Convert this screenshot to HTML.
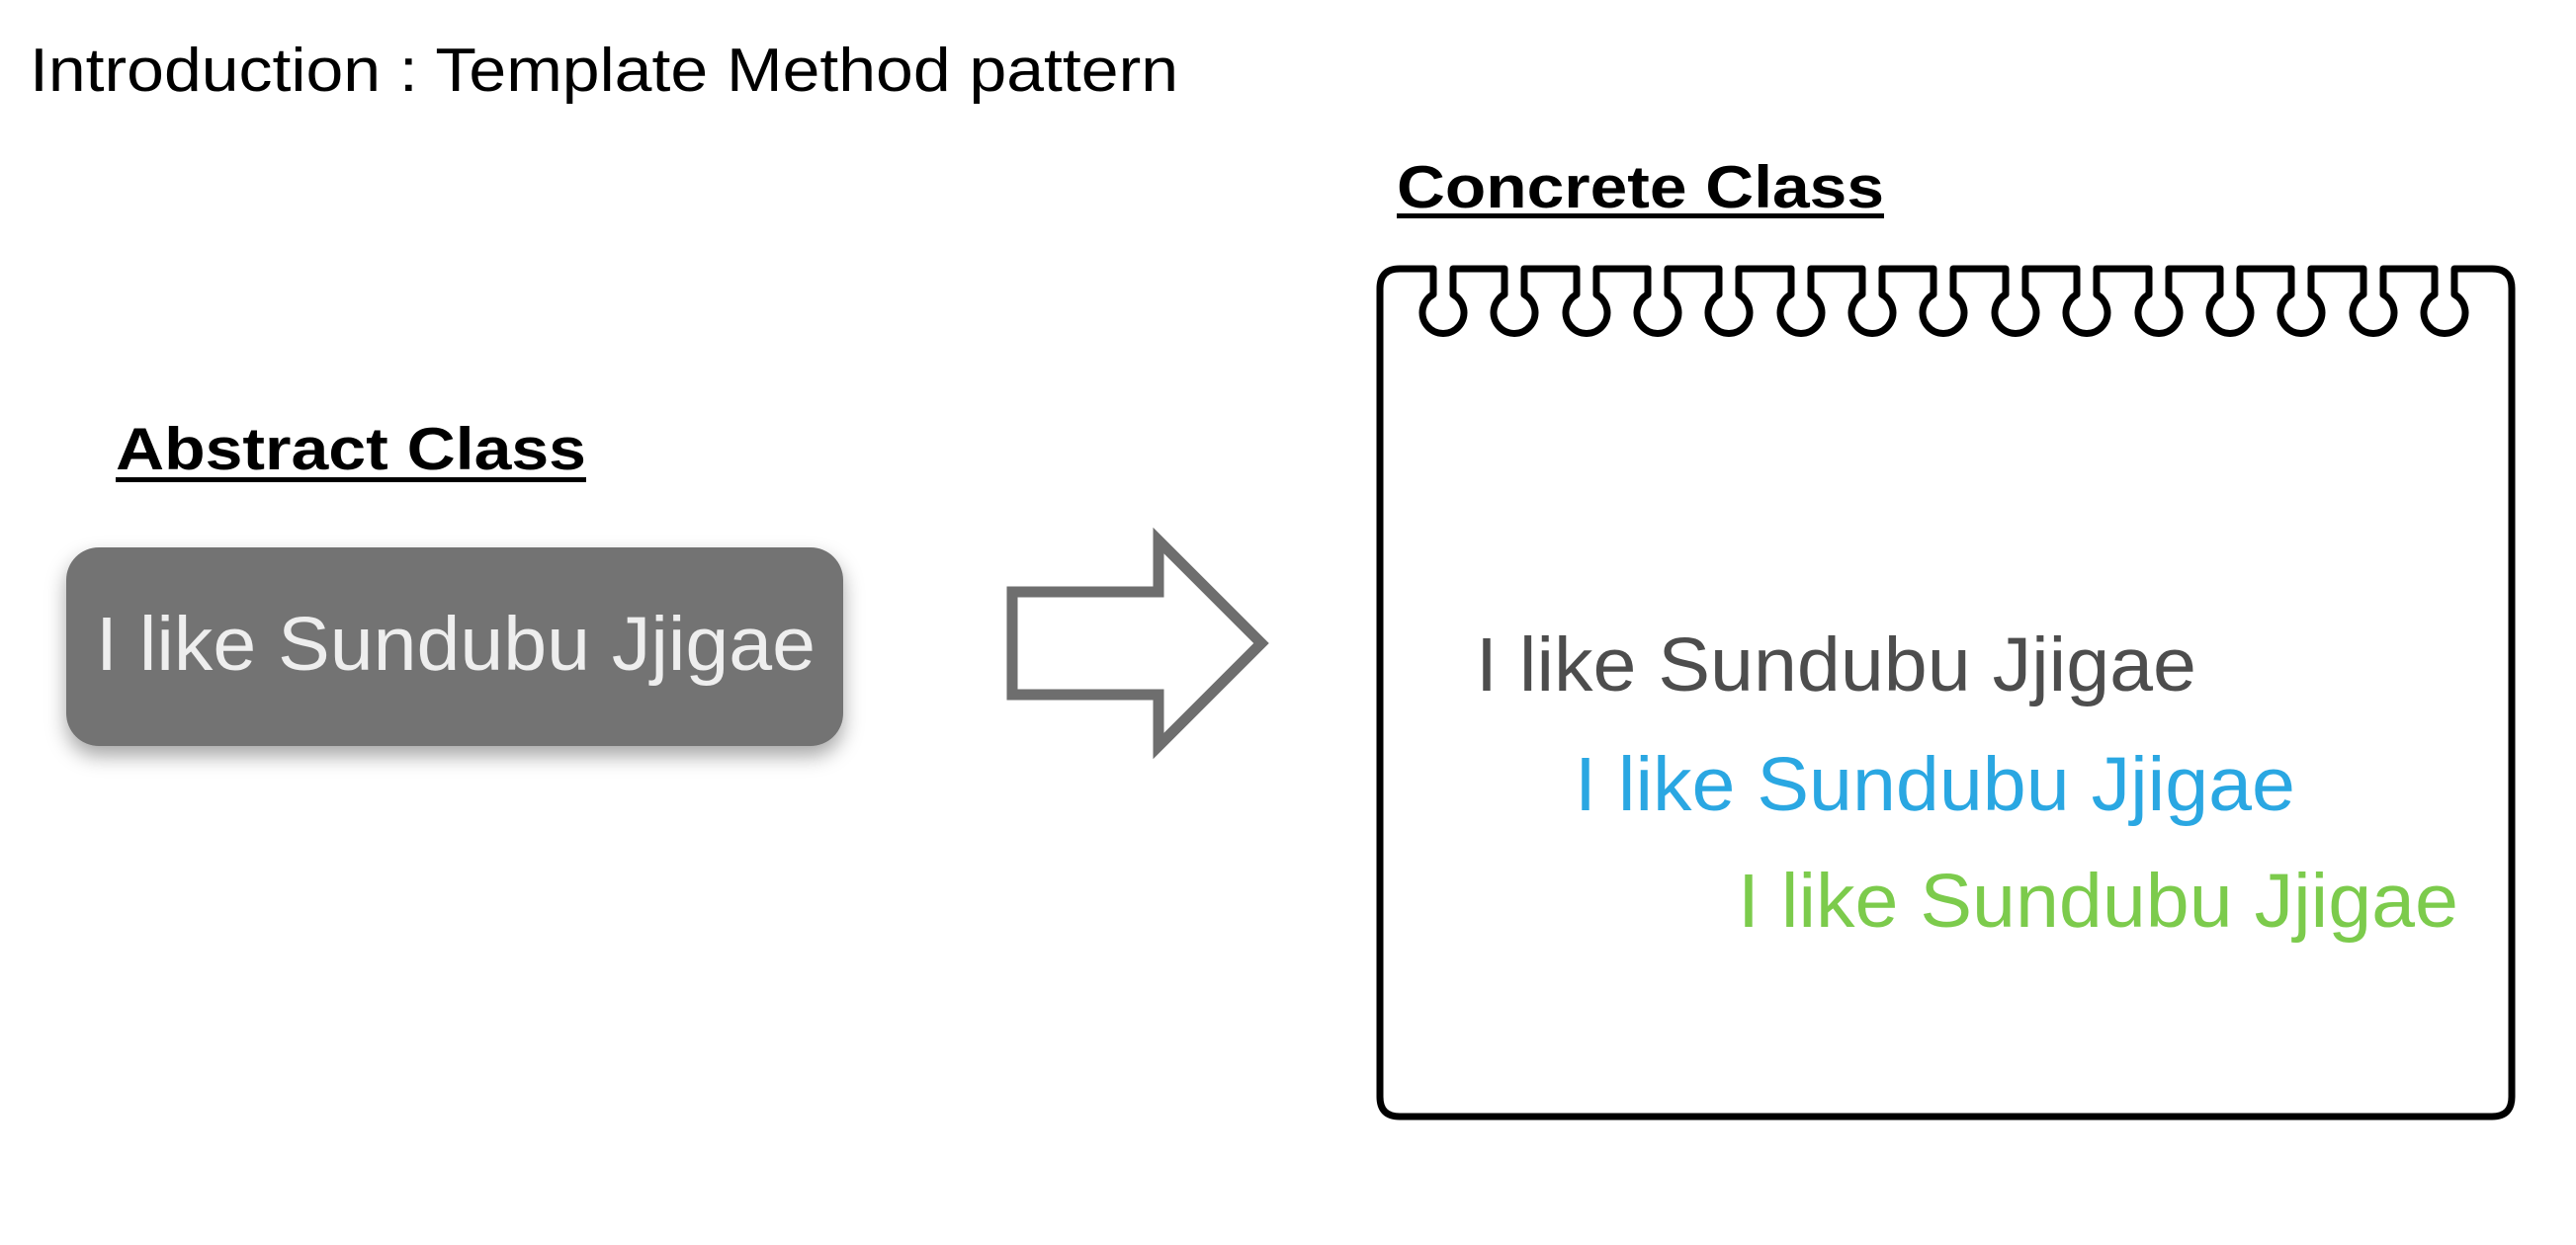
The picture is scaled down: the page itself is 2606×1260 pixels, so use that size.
<!DOCTYPE html>
<html><head><meta charset="utf-8"><style>
html,body{margin:0;padding:0;background:#fff;}
svg{display:block;}
text{font-family:"Liberation Sans",Arial,sans-serif;}
</style></head><body>
<svg width="2606" height="1260" viewBox="0 0 2606 1260" xmlns="http://www.w3.org/2000/svg">
<defs>
<filter id="sh" x="-10%" y="-20%" width="120%" height="150%">
<feDropShadow dx="0" dy="10" stdDeviation="10" flood-color="#000" flood-opacity="0.35"/>
</filter>
</defs>
<text x="30" y="92" font-size="62" fill="#000" textLength="1162" lengthAdjust="spacingAndGlyphs">Introduction : Template Method pattern</text>

<text x="117" y="475" font-size="60" font-weight="bold" fill="#000" textLength="476" lengthAdjust="spacingAndGlyphs">Abstract Class</text>
<rect x="117" y="483" width="476" height="5" fill="#000"/>

<rect x="67" y="554" width="786" height="201" rx="33" fill="#737373" filter="url(#sh)"/>
<text x="97" y="678" font-size="77" fill="#eeeeee" textLength="728" lengthAdjust="spacingAndGlyphs">I like Sundubu Jjigae</text>

<polygon points="1024,599 1172,599 1172,547 1276,651 1172,755 1172,703 1024,703" fill="#fff" stroke="#6e6e6e" stroke-width="11"/>

<text x="1413" y="210" font-size="60" font-weight="bold" fill="#000" textLength="493" lengthAdjust="spacingAndGlyphs">Concrete Class</text>
<rect x="1413" y="216" width="493" height="5" fill="#000"/>

<path fill="none" stroke="#000" stroke-width="7" stroke-linejoin="round" d="
M1396,292 Q1396,272 1416,272
L1450,272 L1450,298 A21,21 0 1 0 1470,298 L1470,272
L1522,272 L1522,298 A21,21 0 1 0 1542,298 L1542,272
L1595,272 L1595,298 A21,21 0 1 0 1615,298 L1615,272
L1667,272 L1667,298 A21,21 0 1 0 1687,298 L1687,272
L1739,272 L1739,298 A21,21 0 1 0 1759,298 L1759,272
L1812,272 L1812,298 A21,21 0 1 0 1832,298 L1832,272
L1884,272 L1884,298 A21,21 0 1 0 1904,298 L1904,272
L1956,272 L1956,298 A21,21 0 1 0 1976,298 L1976,272
L2029,272 L2029,298 A21,21 0 1 0 2049,298 L2049,272
L2101,272 L2101,298 A21,21 0 1 0 2121,298 L2121,272
L2174,272 L2174,298 A21,21 0 1 0 2194,298 L2194,272
L2246,272 L2246,298 A21,21 0 1 0 2266,298 L2266,272
L2318,272 L2318,298 A21,21 0 1 0 2338,298 L2338,272
L2391,272 L2391,298 A21,21 0 1 0 2411,298 L2411,272
L2463,272 L2463,298 A21,21 0 1 0 2483,298 L2483,272
L2521,272 Q2541,272 2541,292
L2541,1110 Q2541,1130 2521,1130
L1416,1130 Q1396,1130 1396,1110 Z"/>

<text x="1493" y="699" font-size="77" fill="#4d4d4d" textLength="729" lengthAdjust="spacingAndGlyphs">I like Sundubu Jjigae</text>
<text x="1593" y="820" font-size="77" fill="#2aa7e2" textLength="729" lengthAdjust="spacingAndGlyphs">I like Sundubu Jjigae</text>
<text x="1758" y="938" font-size="77" fill="#7ccb4c" textLength="729" lengthAdjust="spacingAndGlyphs">I like Sundubu Jjigae</text>
</svg>
</body></html>
